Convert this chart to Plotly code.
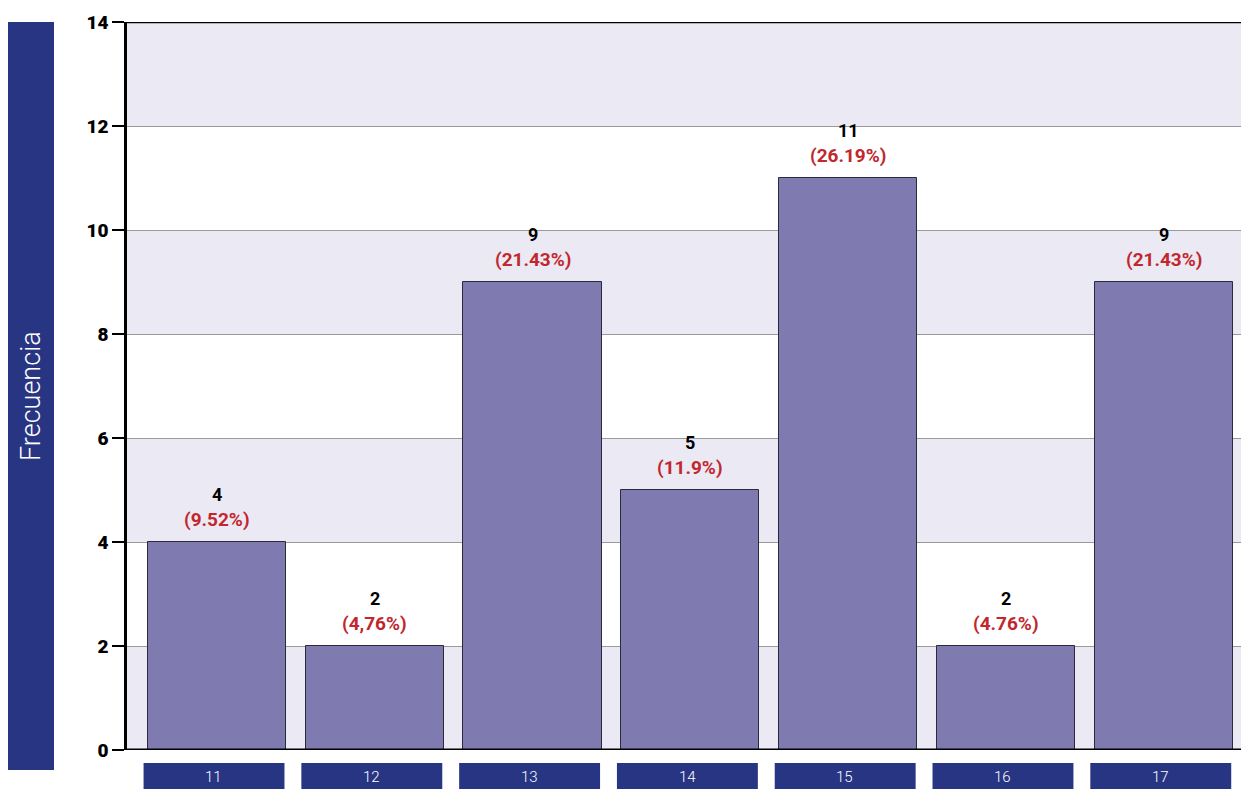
import plotly.graph_objects as go

# Edades y frecuencias
categorias = ["11", "12", "13", "14", "15", "16", "17"]
frecuencias = [4, 2, 9, 5, 11, 2, 9]
porcentajes = ["(9.52%)", "(4,76%)", "(21.43%)", "(11.9%)", "(26.19%)", "(4.76%)", "(21.43%)"]
y_ticks = [0, 2, 4, 6, 8, 10, 12, 14]

NAVY = "#283583"
BAR = "#7f7bb0"
BAND = "#ebe9f4"
RED = "#c1272d"
FONT = "Roboto"

x_pos = list(range(len(categorias)))

fig = go.Figure()
fig.add_trace(go.Bar(
    x=x_pos,
    y=frecuencias,
    width=0.875,
    marker=dict(color=BAR, line=dict(color="#2a2a3a", width=1)),
    hoverinfo="skip",
))

shapes = []
# alternating horizontal bands
for lo in range(0, 14, 4):
    shapes.append(dict(type="rect", xref="paper", yref="y", x0=0, x1=1, y0=lo, y1=lo + 2,
                       fillcolor=BAND, line=dict(width=0), layer="below"))
shapes.append(dict(type="rect", xref="paper", yref="y", x0=0, x1=1, y0=12, y1=14,
                   fillcolor=BAND, line=dict(width=0), layer="below"))
# top border
shapes.append(dict(type="line", xref="paper", yref="y", x0=0, x1=1, y0=14, y1=14,
                   line=dict(color="black", width=2.5)))

PLOT_W = 1241 - 127
PLOT_H = 789 - 22 - 39


def px_x(px):
    return (px - 127) / PLOT_W


def px_y(py):
    return (750 - py) / PLOT_H


# left title strip
shapes.append(dict(type="rect", xref="paper", yref="paper", x0=px_x(8), x1=px_x(54),
                   y0=px_y(770), y1=px_y(22), fillcolor=NAVY, line=dict(width=0)))

annotations = []
for i, (v, p) in enumerate(zip(frecuencias, porcentajes)):
    annotations.append(dict(x=i, y=v, xref="x", yref="y", text=f"<b>{v}</b>", showarrow=False,
                            yshift=48, font=dict(family=FONT, size=18, color="black", weight=900)))
    annotations.append(dict(x=i, y=v, xref="x", yref="y", text=f"<b>{p}</b>", showarrow=False,
                            yshift=23, font=dict(family=FONT, size=19, color=RED, weight=900)))
    # category boxes under the axis
    shapes.append(dict(type="rect", xref="x", yref="paper", x0=i - 0.465, x1=i + 0.428,
                       y0=px_y(789), y1=px_y(763), fillcolor=NAVY, line=dict(width=0)))
    annotations.append(dict(x=i - 0.02, y=px_y(777), xref="x", yref="paper", text=categorias[i],
                            showarrow=False, xanchor="center", yanchor="middle",
                            font=dict(family=FONT, size=15, color="white", weight=300)))

annotations.append(dict(x=px_x(31), y=px_y(396), xref="paper", yref="paper", text="Frecuencia",
                        textangle=-90, showarrow=False, xanchor="center", yanchor="middle",
                        font=dict(family=FONT, size=27, color="white", weight=300)))

fig.update_layout(
    width=1241, height=789,
    margin=dict(l=127, r=0, t=22, b=39),
    paper_bgcolor="white",
    plot_bgcolor="white",
    showlegend=False,
    bargap=0,
    shapes=shapes,
    annotations=annotations,
    xaxis=dict(range=[-0.57, 6.49], showticklabels=False, showgrid=False, zeroline=False,
               showline=False, fixedrange=True),
    yaxis=dict(range=[0, 14], tickvals=y_ticks, ticks="outside", ticklen=12, tickwidth=2,
               tickcolor="black", showline=True, linecolor="black", linewidth=2.5,
               showgrid=True, gridcolor="#9a9a9a", gridwidth=1, zeroline=False,
               tickfont=dict(family=FONT, size=19, color="black", weight=900),
               fixedrange=True),
)
# bottom axis line
fig.add_shape(type="line", xref="paper", yref="y", x0=0, x1=1, y0=0, y1=0,
              line=dict(color="black", width=3))

fig.write_html("out.html")
